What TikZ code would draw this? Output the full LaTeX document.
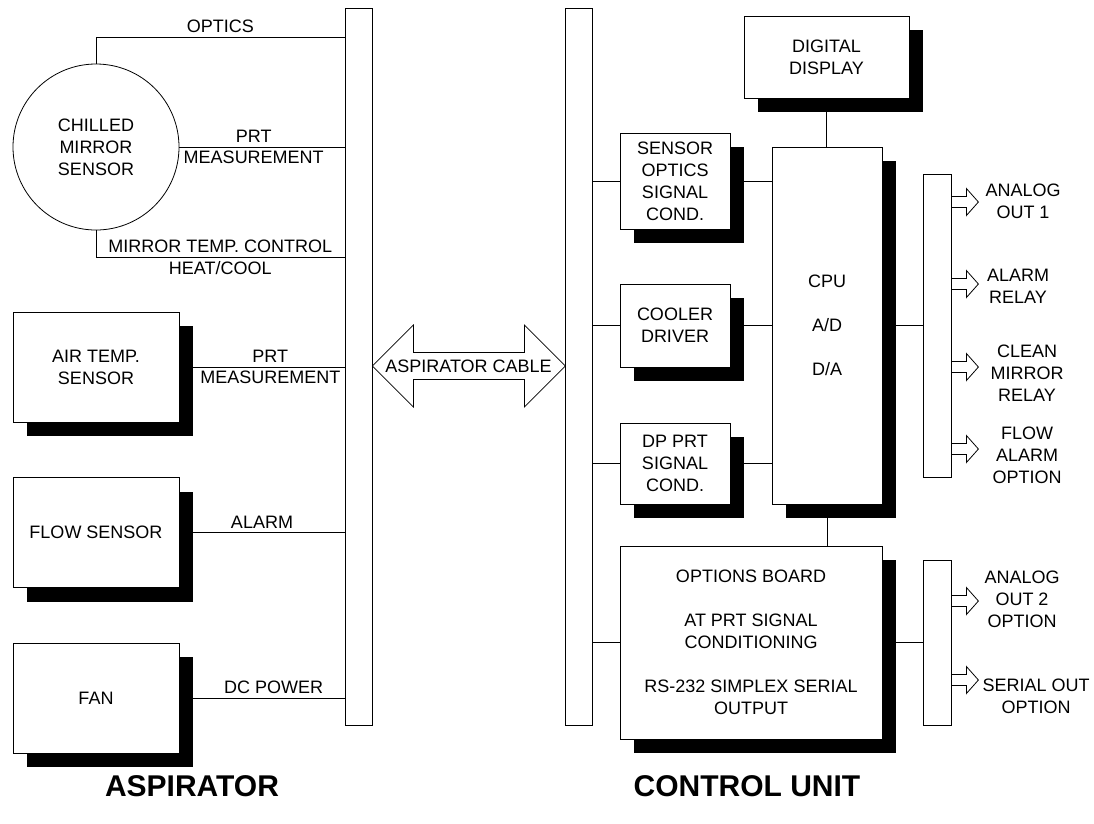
\documentclass[tikz,border=0pt]{standalone}
\usepackage{fontspec}
\setmainfont{Liberation Sans}
\usetikzlibrary{shadows,backgrounds}

\tikzset{
  unit/.style={draw,fill=white,align=center,inner sep=0pt,
    drop shadow={shadow xshift=14pt,shadow yshift=-14pt,fill=black,opacity=1}},
  bus/.style={draw,fill=white,inner sep=0pt,minimum width=27pt},
  lbl/.style={align=center,inner sep=4pt},
  title/.style={font=\bfseries\fontsize{30}{36}\selectfont},
  outarrow/.pic={\draw (0,-5.5) -- (15,-5.5) -- (15,-13.5) -- (27,0) -- (15,13.5) -- (15,5.5) -- (0,5.5);}
}

\begin{document}
\begin{tikzpicture}[x=1pt,y=-1pt,line width=0.8pt,font=\fontsize{18}{22}\selectfont]
  \useasboundingbox (0,0) rectangle (1094,823);

  % aspirator side
  \node[circle,draw,minimum size=166pt,inner sep=0pt,align=center] (sensor) at (96,147) {CHILLED\\MIRROR\\SENSOR};
  \node[unit,minimum width=166pt,minimum height=110pt] (airtemp) at (96,367) {AIR TEMP.\\SENSOR};
  \node[unit,minimum width=166pt,minimum height=110pt] (flow) at (96,532.5) {FLOW SENSOR};
  \node[unit,minimum width=166pt,minimum height=110pt] (fan) at (96,698) {FAN};
  \node[bus,minimum height=717pt] (leftbus) at (358.5,366.5) {};

  % control unit side
  \node[bus,minimum height=717pt] (rightbus) at (578.5,366.5) {};
  \node[unit,minimum width=165pt,minimum height=82pt] (display) at (826.5,57) {DIGITAL\\DISPLAY};
  \node[unit,minimum width=110pt,minimum height=96pt] (optcond) at (675,181) {SENSOR\\OPTICS\\SIGNAL\\COND.};
  \node[unit,minimum width=110pt,minimum height=83pt] (cooler) at (675,325.5) {COOLER\\DRIVER};
  \node[unit,minimum width=110pt,minimum height=81pt] (dpprt) at (675,463.5) {DP PRT\\SIGNAL\\COND.};
  \node[unit,minimum width=110pt,minimum height=357pt] (cpu) at (827,325.5) {CPU\\[22pt]A/D\\[22pt]D/A};
  \node[unit,minimum width=262pt,minimum height=193pt] (options) at (751,642.5)
    {OPTIONS BOARD\\[22pt]AT PRT SIGNAL\\CONDITIONING\\[22pt]RS-232 SIMPLEX SERIAL\\OUTPUT};
  \node[bus,minimum width=28pt,minimum height=303pt] (outbusa) at (937,325.5) {};
  \node[bus,minimum width=28pt,minimum height=165pt] (outbusb) at (937,642.5) {};

  % wiring
  \begin{scope}[on background layer]
    \draw (sensor.north) |- (leftbus.west |- 0,37) node[lbl,above,pos=.75] {OPTICS};
    \draw (sensor.east) -- (sensor.east -| leftbus.west)
      node[lbl,above,pos=.45] {PRT} node[lbl,below,pos=.45] {MEASUREMENT};
    \draw (sensor.south) |- (leftbus.west |- 0,257)
      node[lbl,above,pos=.75] {MIRROR TEMP. CONTROL} node[lbl,below,pos=.75] {HEAT/COOL};
    \draw (airtemp.east) -- (airtemp.east -| leftbus.west)
      node[lbl,above,pos=.55] {PRT} node[lbl,below,pos=.55] {MEASUREMENT};
    \draw (flow.east) -- (flow.east -| leftbus.west) node[lbl,above,pos=.5] {ALARM};
    \draw (fan.east) -- (fan.east -| leftbus.west) node[lbl,above,pos=.57] {DC POWER};

    \draw (display.south) -- (display.south |- cpu.north);
    \draw (rightbus.east |- optcond.west) -- (optcond.west);
    \draw (optcond.east) -- (optcond.east -| cpu.west);
    \draw (rightbus.east |- cooler.west) -- (cooler.west);
    \draw (cooler.east) -- (cooler.east -| cpu.west);
    \draw (rightbus.east |- dpprt.west) -- (dpprt.west);
    \draw (dpprt.east) -- (dpprt.east -| cpu.west);
    \draw (cpu.south) -- (cpu.south |- options.north);
    \draw (rightbus.east |- options.west) -- (options.west);
    \draw (options.east) -- (outbusb.west);
    \draw (cpu.east) -- (outbusa.west);
  \end{scope}

  % aspirator cable
  \draw (leftbus.east |- 0,366) -- ++(41,-41) -- ++(0,27.5) -- ++(111,0) -- ++(0,-27.5)
    -- ++(41,41) -- ++(-41,41) -- ++(0,-27.5) -- ++(-111,0) -- ++(0,27.5) -- cycle;
  \node (cable) at (468.5,366) {ASPIRATOR CABLE};

  % outputs
  \foreach \y in {202,284,367,449}
    \pic at (outbusa.east |- 0,\y) {outarrow};
  \foreach \y in {601,680}
    \pic at (outbusb.east |- 0,\y) {outarrow};
  \node[lbl] (aout1) at (1023,201.5) {ANALOG\\OUT 1};
  \node[lbl] (alarmrelay) at (1018,286.5) {ALARM\\RELAY};
  \node[lbl] (cleanrelay) at (1027,373) {CLEAN\\MIRROR\\RELAY};
  \node[lbl] (flowalarm) at (1027,455) {FLOW\\ALARM\\OPTION};
  \node[lbl] (aout2) at (1022,599.5) {ANALOG\\OUT 2\\OPTION};
  \node[lbl] (serialout) at (1036,696) {SERIAL OUT\\OPTION};

  \node[title] (aspirator) at (192,786) {ASPIRATOR};
  \node[title] (controlunit) at (747,786) {CONTROL UNIT};
\end{tikzpicture}
\end{document}
